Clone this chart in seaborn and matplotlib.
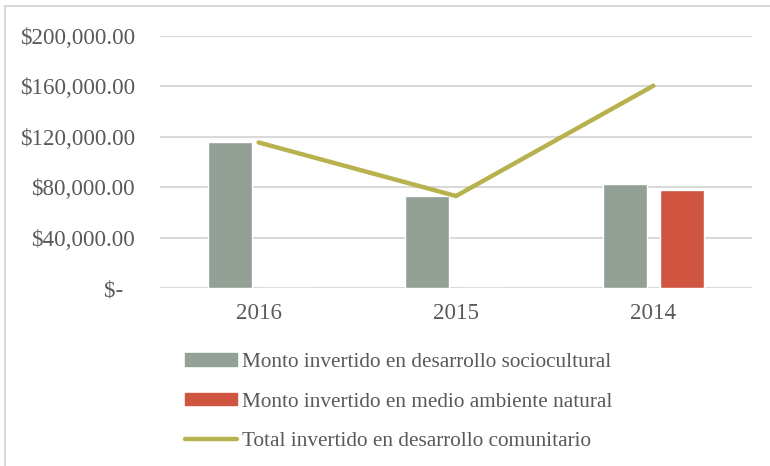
import pandas as pd
import numpy as np
import matplotlib
matplotlib.use('Agg')
import matplotlib.pyplot as plt
import seaborn as sns
from matplotlib.patches import Rectangle
from matplotlib.ticker import FuncFormatter

# Datos
anios = ['2016', '2015', '2014']
sociocultural = [115500, 73000, 82500]
medio_ambiente = [0, 0, 78000]
serie_socio = 'Monto invertido en desarrollo sociocultural'
serie_medio = 'Monto invertido en medio ambiente natural'
serie_total = 'Total invertido en desarrollo comunitario'
total = [s + m for s, m in zip(sociocultural, medio_ambiente)]

colores = {serie_socio: '#92A096', serie_medio: '#CF5541'}
color_total = '#B8B24E'
gris_texto = '#595959'
gris_linea = '#D9D9D9'

df = pd.DataFrame({
    'anio': anios * 2,
    'serie': [serie_socio] * 3 + [serie_medio] * 3,
    'monto': sociocultural + medio_ambiente,
})

sns.set_style('white')
plt.rcParams['font.family'] = ['Liberation Serif', 'DejaVu Serif']

fig = plt.figure(figsize=(7.7, 4.66), dpi=100)
ax = fig.add_axes([160 / 770, 1 - 288 / 466, 592 / 770, 252 / 466])

sns.barplot(data=df, x='anio', y='monto', hue='serie', order=anios,
            hue_order=[serie_socio, serie_medio], palette=colores,
            width=0.58, gap=0.23, ax=ax, legend=False, saturation=1)
sns.lineplot(x=np.arange(len(anios)), y=total, color=color_total, linewidth=3.2,
             ax=ax, sort=False, solid_capstyle='round', solid_joinstyle='round',
             label=serie_total, legend=False)

ax.set_ylim(0, 200000)
ax.set_xlim(-0.5, 2.5)
ax.set_yticks(np.arange(0, 200001, 40000))
ax.yaxis.set_major_formatter(FuncFormatter(lambda v, p: '$-  ' if v == 0 else f'${v:,.2f}'))
ax.grid(axis='y', color=gris_linea, linewidth=1.5)
ax.set_axisbelow(True)
for s in ax.spines.values():
    s.set_visible(False)
ax.tick_params(axis='both', length=0, labelsize=16.6, labelcolor=gris_texto)
ax.tick_params(axis='y', pad=18)
ax.tick_params(axis='x', pad=11)
ax.set_xlabel('')
ax.set_ylabel('')

# Leyenda
handles = [Rectangle((0, 0), 1, 1, color=colores[serie_socio]),
           Rectangle((0, 0), 1, 1, color=colores[serie_medio]),
           plt.Line2D([0], [0], color=color_total, linewidth=3.2, solid_capstyle='round')]
leg = fig.legend(handles, [serie_socio, serie_medio, serie_total], loc='upper left',
                 bbox_to_anchor=(185 / 770, 1 - 353 / 466), frameon=False,
                 fontsize=15.3, handlelength=2.45, handleheight=0.5, handletextpad=0.25,
                 labelspacing=0.97, borderpad=0, borderaxespad=0)
for t in leg.get_texts():
    t.set_color(gris_texto)

# Marco del gráfico
fig.patches.append(Rectangle((5 / 770, -0.1), 800 / 770, 1.1 - 6 / 466, transform=fig.transFigure,
                             fill=False, edgecolor=gris_linea, linewidth=1.5))

fig.savefig('out.png', dpi=100)
